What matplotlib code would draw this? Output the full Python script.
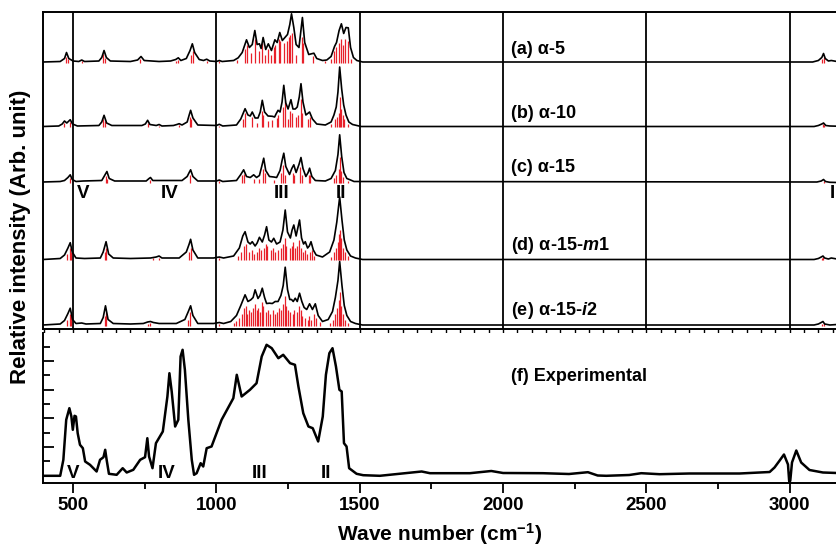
import numpy as np
import matplotlib
matplotlib.use('Agg')
import matplotlib.pyplot as plt
from matplotlib.ticker import MultipleLocator

plt.rcParams['font.family'] = ['Liberation Sans', 'DejaVu Sans']
plt.rcParams['font.weight'] = 'bold'
plt.rcParams['mathtext.fontset'] = 'custom'
plt.rcParams['mathtext.rm'] = 'Liberation Sans:bold'
plt.rcParams['mathtext.bf'] = 'Liberation Sans:bold'
plt.rcParams['mathtext.it'] = 'Liberation Sans:bold:italic'

# ---- computed spectra: envelope (black) and sticks (red), heights in arb. units ----
a_x = [395, 455, 470, 477, 485, 500, 520, 530, 540, 590, 600, 608, 616, 630, 700, 725, 737, 748, 800, 840,
       858, 867, 876, 895, 908, 916, 924, 940, 955, 966, 977, 1000, 1010, 1020, 1060, 1076, 1090, 1105, 1115,
       1125, 1134, 1142, 1150, 1156, 1163, 1172, 1181, 1192, 1204, 1212, 1221, 1230, 1239, 1248, 1256, 1262,
       1270, 1278, 1288, 1300, 1308, 1322, 1340, 1350, 1370, 1385, 1400, 1412, 1419, 1428, 1436, 1444, 1452,
       1460, 1468, 1478, 1490, 1510, 3080, 3100, 3112, 3118, 3124, 3135, 3145, 3165]
a_y = [0.5, 1, 4, 10, 4, 1.5, 1, 2.5, 1, 1.5, 5, 12, 5, 1.5, 1, 2.5, 6, 2, 1, 1.5,
       3, 4.7, 2, 4, 12, 18.7, 10, 3, 2, 3.3, 1.5, 1, 2, 1, 2, 4.7, 10, 22.7, 15,
       18, 32, 18, 18.7, 14, 25, 13, 18.7, 12, 22.7, 20, 30, 22, 25, 28, 38, 48.7,
       35, 18, 15, 45, 20, 8, 9.3, 4, 2, 2.5, 6, 16, 20, 32, 38.7, 29, 35,
       34.7, 15, 5, 2, 0.5, 0.5, 2, 5, 9, 4, 1.5, 2, 1]
a_sx = [475, 482, 530, 606, 610, 735, 860, 866, 912, 917, 966, 1010, 1072, 1100, 1106, 1121, 1134, 1148, 1160,
        1170, 1180, 1190, 1200, 1206, 1218, 1222, 1236, 1245, 1252, 1258, 1263, 1276, 1298, 1303, 1338, 1380,
        1398, 1410, 1418, 1426, 1435, 1442, 1450, 1458, 1470, 3114, 3118]
a_sy = [6, 4, 2, 9, 5, 4, 2, 3, 8, 12, 2, 1.5, 3, 14, 18, 10, 24, 12, 20,
        8, 14, 8, 16, 18, 24, 22, 20, 22, 26, 28, 30, 8, 26, 20, 7, 2,
        4, 12, 16, 20, 24, 18, 24, 22, 4, 4, 6]

b_x = [395, 450, 462, 470, 478, 490, 498, 515, 590, 600, 608, 617, 635, 740, 752, 760, 768, 790, 800, 810,
       850, 862, 870, 880, 898, 905, 910, 918, 935, 1000, 1010, 1022, 1070, 1085, 1100, 1110, 1118, 1125, 1135,
       1145, 1153, 1160, 1168, 1180, 1195, 1203, 1208, 1215, 1222, 1229, 1235, 1242, 1250, 1260, 1267, 1275,
       1282, 1289, 1295, 1302, 1312, 1325, 1335, 1350, 1380, 1400, 1410, 1418, 1424, 1430, 1437, 1444, 1452,
       1462, 1475, 1490, 1505, 3085, 3100, 3112, 3118, 3126, 3140, 3165]
b_y = [0.5, 1, 3, 6, 4, 7.3, 3, 1, 1.5, 5, 11.7, 4, 1.5, 1.5, 3, 6.7, 2.5, 1.5, 2.5, 1,
       1.5, 2.5, 3.3, 2, 5, 12, 16.7, 9, 2, 1.5, 2.7, 1, 2, 8, 18.3, 12, 11, 15, 9,
       9, 15, 26.7, 15, 11, 10.7, 10, 13, 16.7, 15, 25, 41.7, 24, 18, 27.3, 18, 18,
       20, 30, 43.3, 25, 12, 15, 8, 3, 2, 5, 12, 20, 35, 60, 38, 22, 12,
       5, 2.5, 1.5, 0.5, 0.5, 1.5, 3, 4, 1.5, 1, 0.8]
b_sx = [470, 490, 606, 610, 760, 800, 870, 908, 912, 1010, 1094, 1100, 1124, 1140, 1158, 1164, 1180, 1194,
        1210, 1216, 1232, 1238, 1248, 1258, 1262, 1276, 1286, 1294, 1300, 1320, 1328, 1400, 1412, 1420, 1426,
        1430, 1434, 1440, 1446, 1458, 3116, 3120]
b_sy = [4, 5, 8, 6, 4, 1.5, 2, 10, 8, 1.5, 8, 14, 10, 4, 16, 12, 6, 7,
        9, 12, 20, 26, 8, 16, 14, 10, 12, 28, 14, 8, 10, 3, 8, 10, 14,
        30, 18, 12, 8, 3, 3, 2]

c_x = [395, 455, 470, 482, 490, 497, 510, 535, 600, 610, 618, 626, 645, 755, 765, 770, 778, 880, 898, 905,
       910, 918, 935, 1000, 1010, 1022, 1070, 1085, 1095, 1105, 1118, 1130, 1140, 1150, 1158, 1165, 1172, 1185,
       1200, 1210, 1222, 1229, 1235, 1242, 1255, 1263, 1270, 1278, 1288, 1295, 1302, 1312, 1320, 1325, 1333,
       1345, 1380, 1400, 1415, 1424, 1430, 1437, 1445, 1455, 1468, 1480, 3095, 3110, 3118, 3125, 3140, 3165]
c_y = [0.5, 1, 2, 5, 7.7, 3, 1, 1.5, 2, 7, 11, 4, 1.5, 1.5, 4, 5, 2, 2, 6, 10,
       12.7, 6, 1.5, 1.5, 2.5, 1, 2, 8, 12.7, 6, 5, 7.7, 5, 7, 16, 24.3, 12, 6,
       5.5, 5, 12, 22, 29.3, 16, 8, 14, 17.7, 10, 18, 25, 14, 6, 10, 14.3, 6,
       2, 1.5, 4, 12, 28, 47.7, 26, 10, 4, 2.5, 1, 0.5, 1.5, 3, 1, 0.2, 0]
c_sx = [488, 616, 620, 770, 908, 1010, 1090, 1096, 1130, 1150, 1162, 1168, 1200, 1226, 1234, 1240, 1266,
        1272, 1292, 1298, 1322, 1328, 1410, 1418, 1426, 1430, 1436, 1442, 1460, 3118]
c_sy = [5, 7, 4, 3, 8, 1.5, 8, 9, 4, 4, 14, 10, 3, 10, 18, 8, 10,
        8, 16, 8, 8, 8, 5, 8, 14, 26, 12, 6, 2, 2]

d_x = [395, 455, 470, 482, 490, 497, 510, 540, 595, 605, 615, 624, 640, 700, 770, 790, 800, 810, 870, 895,
       905, 910, 918, 935, 990, 1010, 1025, 1060, 1080, 1092, 1100, 1110, 1118, 1125, 1135, 1142, 1150, 1160,
       1168, 1175, 1183, 1192, 1200, 1210, 1222, 1232, 1240, 1248, 1258, 1264, 1270, 1278, 1284, 1290, 1297,
       1304, 1310, 1318, 1324, 1330, 1338, 1348, 1370, 1395, 1410, 1420, 1430, 1438, 1446, 1455, 1468, 1485,
       1510, 3085, 3100, 3110, 3116, 3122, 3135, 3145, 3165]
d_y = [0.5, 1.5, 5, 12, 17.3, 8, 2, 1.5, 2, 8, 18.3, 6, 2, 1.5, 2, 3, 4, 2, 2, 8,
       16, 20.7, 10, 2, 2, 3, 2, 4, 12, 24, 28.3, 18, 16, 18.3, 14, 17, 22.7, 18,
       25, 33.3, 20, 18, 21.7, 16, 18, 30, 50, 28, 22, 30, 35, 24, 32, 40, 22,
       16, 18.3, 12, 14, 18.3, 10, 5, 3, 8, 20, 38, 63, 40, 20, 10, 4, 2,
       0.5, 0.5, 1.5, 3, 4, 2, 1, 2, 1]
d_sx = [480, 490, 494, 612, 616, 780, 800, 906, 911, 1010, 1075, 1085, 1096, 1102, 1112, 1124, 1132, 1140,
        1148, 1155, 1165, 1172, 1178, 1190, 1198, 1206, 1215, 1226, 1232, 1238, 1244, 1255, 1262, 1268, 1274,
        1282, 1288, 1294, 1302, 1308, 1316, 1326, 1332, 1342, 1398, 1410, 1418, 1424, 1428, 1432, 1436, 1442,
        1450, 1460, 3112, 3116]
d_sy = [6, 12, 8, 8, 12, 2, 2, 8, 12, 2, 4, 8, 14, 16, 8, 10, 6, 8,
        12, 10, 12, 16, 14, 10, 12, 8, 10, 12, 16, 22, 14, 12, 14, 18, 12,
        14, 20, 12, 8, 10, 6, 8, 10, 4, 3, 8, 12, 18, 26, 30, 22, 12,
        8, 4, 2, 3]

e_x = [395, 455, 470, 482, 490, 498, 510, 530, 545, 595, 605, 613, 622, 640, 700, 745, 760, 770, 780, 800,
       860, 890, 902, 910, 918, 935, 990, 1010, 1025, 1050, 1070, 1085, 1100, 1110, 1120, 1128, 1135, 1145,
       1152, 1160, 1168, 1175, 1185, 1195, 1205, 1215, 1225, 1233, 1240, 1248, 1256, 1262, 1268, 1275, 1282,
       1290, 1298, 1306, 1315, 1325, 1335, 1345, 1355, 1370, 1390, 1405, 1415, 1424, 1430, 1438, 1446, 1455,
       1468, 1485, 1510, 3085, 3100, 3110, 3116, 3122, 3140, 3165]
e_y = [0.5, 1.5, 5, 12, 17.3, 6, 2, 2.5, 1.5, 2, 8, 19.7, 6, 2, 1.5, 2, 3.5, 4, 3, 2,
       2, 6, 14, 19.7, 10, 2, 2, 3, 2, 4, 10, 20, 30.7, 24, 25.7, 28, 35.7, 27,
       30, 37.3, 28, 22, 22.3, 22, 24, 24, 30, 40, 58.3, 36, 26, 26, 24, 27.3, 24,
       32.3, 24, 18, 16, 21.7, 16, 21.7, 10, 4, 6, 14, 28, 45, 64, 40, 20, 10,
       4, 2, 0.5, 0.5, 1.5, 3, 4, 1.5, 0.5, 1]
e_sx = [480, 488, 494, 610, 615, 760, 770, 900, 909, 1010, 1060, 1070, 1080, 1088, 1096, 1102, 1108, 1115,
        1122, 1128, 1134, 1140, 1146, 1152, 1158, 1164, 1172, 1180, 1188, 1196, 1204, 1210, 1218, 1226, 1232,
        1238, 1244, 1250, 1258, 1266, 1272, 1280, 1288, 1294, 1300, 1310, 1318, 1324, 1330, 1342, 1348, 1360,
        1395, 1405, 1412, 1420, 1426, 1430, 1434, 1440, 1448, 1460, 3114, 3118]
e_sy = [6, 12, 10, 10, 14, 2, 3, 6, 14, 2, 3, 5, 8, 12, 18, 20, 12, 16,
        14, 18, 22, 16, 18, 14, 24, 20, 14, 16, 12, 16, 12, 14, 18, 16, 22,
        30, 20, 16, 14, 12, 16, 14, 20, 16, 10, 8, 6, 10, 6, 12, 8, 4,
        3, 6, 12, 18, 26, 34, 20, 12, 6, 3, 2, 3]

# ---- experimental spectrum ----
exp_x = [395, 455, 466, 476, 487, 494, 499, 505, 510, 516, 524, 534, 542, 559, 582, 594, 606, 612, 617, 625,
         652, 673, 687, 710, 734, 751, 759, 765, 777, 789, 813, 829, 836, 844, 856, 867, 875, 882, 890, 902,
         914, 922, 931, 945, 954, 966, 983, 1018, 1059, 1071, 1088, 1117, 1140, 1158, 1175, 1193, 1216, 1233,
         1257, 1274, 1286, 1303, 1321, 1336, 1355, 1371, 1382, 1394, 1405, 1417, 1429, 1437, 1445, 1454, 1463,
         1489, 1512, 1570, 1716, 1745, 1884, 1959, 2000, 2139, 2230, 2296, 2330, 2360, 2440, 2482, 2546, 2650,
         2825, 2930, 2947, 2965, 2980, 2994, 2998, 3000, 3002, 3008, 3023, 3040, 3069, 3116, 3165]
exp_y = [6.7, 6.7, 22.7, 62.7, 74.3, 66, 52.7, 66.7, 66, 49.3, 37.7, 34.3, 21, 17.7, 11, 22.7, 25.3, 32.7, 22.7, 8.7,
         7.7, 14.3, 10, 12.7, 22.7, 25.3, 44.3, 26, 14.3, 39.3, 51, 86, 109.3, 91, 56, 62.7, 126, 132.7, 112.7, 62.7,
         22.7, 7.7, 9.3, 19.3, 16, 34.3, 36, 62.7, 84.3, 107.7, 86, 92.7, 99.3, 126, 137.7, 134.3, 124.3, 127.7,
         119.3, 117.7, 96, 69.3, 56, 54.3, 41, 66, 107.7, 129.3, 134.3, 116, 92.7, 91, 39.3, 36, 14.3,
         8.7, 7.3, 6.7, 11, 9.3, 9.3, 11.5, 9.5, 9.3, 8.5, 10.3, 7, 6.7, 7.5, 9.3, 8.3, 9,
         9, 10.5, 15, 22, 28, 18, 2, 0.5, 2, 20, 32, 20, 12.5, 10, 9.5]

labels = ['(a) α-5', '(b) α-10', '(c) α-15', '(d) α-15-$\\mathit{m}$1', '(e) α-15-$\\mathit{i}$2']
roman_top = ['V', 'IV', 'III', 'II', 'I']
roman_top_x = [535, 838, 1227, 1433, 3150]
roman_bot = ['V', 'IV', 'III', 'II']
roman_bot_x = [501, 826, 1152, 1384]

spectra = [(a_x, a_y, a_sx, a_sy), (b_x, b_y, b_sx, b_sy), (c_x, c_y, c_sx, c_sy),
           (d_x, d_y, d_sx, d_sy), (e_x, e_y, e_sx, e_sy)]
offsets = [266.5, 202, 146.5, 69, 3.5]
label_y = [279.7, 215, 161.3, 84, 18.3]

W, H = 837, 547
fig = plt.figure(figsize=(W / 100, H / 100), dpi=100)
ax1 = fig.add_axes([43 / W, 1 - 329 / H, 794 / W, 317 / H])
ax2 = fig.add_axes([43 / W, 1 - 482.5 / H, 794 / W, 149.5 / H])

red = '#e8202a'
for (ex, ey, sx, sy), off in zip(spectra, offsets):
    ax1.vlines(sx, off, off + np.array(sy), color=red, lw=0.9, zorder=2)
    ax1.plot(ex, np.array(ey) + off, color='k', lw=1.2, zorder=3)

for v in range(500, 3001, 500):
    ax1.axvline(v, color='k', lw=1.3, zorder=1)

for lab, ly in zip(labels, label_y):
    ax1.text(2027, ly, lab, fontsize=13, fontweight='bold', va='center', ha='left')
for r, rx in zip(roman_top, roman_top_x):
    ax1.text(rx, 135, r, fontsize=13.5, fontweight='bold', va='center', ha='center')

ax1.set_xlim(395, 3165)
ax1.set_ylim(0, 317)
ax1.set_yticks([])
ax1.xaxis.set_major_locator(MultipleLocator(50))
ax1.tick_params(axis='x', direction='out', length=4, width=1, labelbottom=False)
ax1.spines['right'].set_visible(False)
for s in ['top', 'left', 'bottom']:
    ax1.spines[s].set_linewidth(1.4)

ax2.plot(exp_x, exp_y, color='k', lw=1.8)
ax2.text(2027, 105.7, '(f) Experimental', fontsize=13, fontweight='bold', va='center', ha='left')
for r, rx in zip(roman_bot, roman_bot_x):
    ax2.text(rx, 9.4, r, fontsize=13.5, fontweight='bold', va='center', ha='center')

ax2.set_xlim(395, 3165)
ax2.set_ylim(0, 149.5)
ax2.xaxis.set_major_locator(MultipleLocator(500))
ax2.xaxis.set_minor_locator(MultipleLocator(250))
ax2.set_yticks(np.arange(7, 149, 28.6))
ax2.set_yticks(np.arange(21.3, 149, 28.6), minor=True)
ax2.tick_params(axis='x', which='major', direction='out', length=7.5, width=1.3, labelsize=13.5, pad=3)
ax2.tick_params(axis='x', which='minor', direction='out', length=4, width=1.3)
ax2.tick_params(axis='y', which='major', direction='in', length=8, width=1.3, labelleft=False)
ax2.tick_params(axis='y', which='minor', direction='in', length=5, width=1.3)
for t in ax2.get_xticklabels():
    t.set_fontweight('bold')
ax2.spines['right'].set_visible(False)
ax2.spines['top'].set_visible(False)
for s in ['left', 'bottom']:
    ax2.spines[s].set_linewidth(1.4)
ax2.set_xlabel('Wave number (cm$^{-1}$)', fontsize=15, fontweight='bold', labelpad=5)

fig.text(0.024, 0.567, 'Relative intensity (Arb. unit)', rotation=90, fontsize=16,
         fontweight='bold', va='center', ha='center')

fig.savefig('out.png', dpi=100)
